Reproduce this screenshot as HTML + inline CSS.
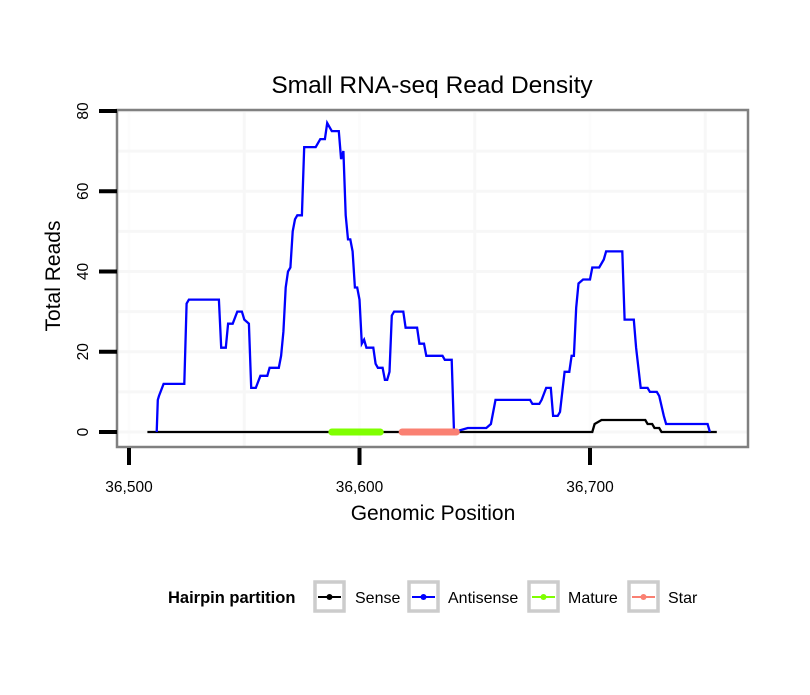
<!DOCTYPE html>
<html><head><meta charset="utf-8"><style>
body{margin:0;background:#fff;}
svg text{font-family:"Liberation Sans",sans-serif;}
</style></head><body>
<svg id="chart" width="810" height="690" xmlns="http://www.w3.org/2000/svg">
<text x="432" y="93" font-size="24.5" text-anchor="middle">Small RNA-seq Read Density</text>
<rect x="117" y="110" width="631" height="337" fill="#fff"/>
<g id="grid"></g>
<g id="series"></g>
<rect x="117" y="110" width="631" height="337" fill="none" stroke="#808080" stroke-width="2.5"/>
<g id="axes"></g>
<text x="433" y="520" font-size="21" text-anchor="middle">Genomic Position</text>
<text transform="translate(60,276) rotate(-90)" font-size="21" text-anchor="middle">Total Reads</text>
<g>
<text x="168" y="603" font-size="16.5" font-weight="bold">Hairpin partition</text>
<g><rect x="315" y="582" width="29" height="29" fill="#fff" stroke="#cccccc" stroke-width="3.5"/><line x1="318" y1="597" x2="341" y2="597" stroke="#000" stroke-width="2"/><circle cx="329.5" cy="597" r="3" fill="#000"/><text x="355" y="603" font-size="16">Sense</text></g>
<g><rect x="409" y="582" width="29" height="29" fill="#fff" stroke="#cccccc" stroke-width="3.5"/><line x1="412" y1="597" x2="435" y2="597" stroke="#0000ff" stroke-width="2"/><circle cx="423.5" cy="597" r="3" fill="#0000ff"/><text x="448" y="603" font-size="16">Antisense</text></g>
<g><rect x="529" y="582" width="29" height="29" fill="#fff" stroke="#cccccc" stroke-width="3.5"/><line x1="532" y1="597" x2="555" y2="597" stroke="#7fff00" stroke-width="2"/><circle cx="543.5" cy="597" r="3" fill="#7fff00"/><text x="568" y="603" font-size="16">Mature</text></g>
<g><rect x="629" y="582" width="29" height="29" fill="#fff" stroke="#cccccc" stroke-width="3.5"/><line x1="632" y1="597" x2="655" y2="597" stroke="#fa8072" stroke-width="2"/><circle cx="643.5" cy="597" r="3" fill="#fa8072"/><text x="668" y="603" font-size="16">Star</text></g>
</g>
</svg>
<script>
const xTicks=[36500,36600,36700];
const xMinor=[36550,36650,36750];
const yTicks=[0,20,40,60,80];
const yMinor=[10,30,50,70];
const antisensePos=[36512,36512.5,36513,36515,36524,36525,36526,36539,36540,36542,36543,36545,36547,36549,36550,36552,36553,36555,36557,36560,36561,36565,36566,36567,36568,36569,36570,36571,36572,36573,36575,36576,36581,36583,36585,36586,36588,36591,36592,36593,36594,36595,36596,36597,36598,36599,36600,36601,36602,36603,36606,36607,36608,36610,36611,36612,36613,36614,36615,36619,36620,36625,36626,36628,36629,36636,36637,36640,36641,36647,36655,36657,36659,36674,36675,36678,36679,36681,36683,36684,36686,36687,36689,36691,36692,36693,36694,36695,36697,36700,36701,36704,36706,36707,36714,36715,36719,36720,36722,36725,36726,36729,36730,36732,36733,36751,36752];
const antisenseVal=[0,8,9,12,12,32,33,33,21,21,27,27,30,30,28,27,11,11,14,14,16,16,19,25,36,40,41,50,53,54,54,71,71,73,73,77,75,75,68,70,54,48,48,45,36,36,33,22,23,21,21,17,16,16,13,13,15,29,30,30,26,26,22,22,19,19,18,18,0,1,1,2,8,8,7,7,8,11,11,4,4,5,15,15,19,19,31,37,38,38,41,41,43,45,45,28,28,21,11,11,10,10,9,4,2,2,0];
const sensePos=[36508,36701,36702,36705,36724,36725,36727,36728,36730,36731,36755];
const senseVal=[0,0,2,3,3,2,2,1,1,0,0];
const matureRange=[36588,36609];
const starRange=[36618.5,36642];
const NS='http://www.w3.org/2000/svg';
const X=v=>129+(v-36500)*2.305;
const Y=v=>432-v*4.0125;
function mk(t,a,p){const e=document.createElementNS(NS,t);for(const k in a)e.setAttribute(k,a[k]);p.appendChild(e);return e;}
const grid=document.getElementById('grid'),axes=document.getElementById('axes'),series=document.getElementById('series');
xMinor.forEach(v=>{const l=mk('line',{x1:X(v),x2:X(v),y1:111,y2:446,stroke:'#f7f7f7','stroke-width':3},grid);

});
xTicks.forEach(v=>{const l=mk('line',{x1:X(v),x2:X(v),y1:111,y2:446,stroke:'#fcfcfc','stroke-width':3},grid);

});
yMinor.concat(yTicks).forEach(v=>{const l=mk('line',{x1:118,x2:747,y1:Y(v),y2:Y(v),stroke:'#f7f7f7','stroke-width':3},grid);

});
function path(px,py){return px.map((p,i)=>(i?'L':'M')+X(p).toFixed(1)+','+Y(py[i]).toFixed(1)).join('');}
const sl=mk('path',{d:path(sensePos,senseVal),fill:'none',stroke:'#000','stroke-width':2.3},series);


const al=mk('path',{d:path(antisensePos,antisenseVal),fill:'none',stroke:'#0000ff','stroke-width':2.3},series);


const ml=mk('line',{x1:X(matureRange[0]),x2:X(matureRange[1]),y1:Y(0),y2:Y(0),stroke:'#7fff00','stroke-width':7,'stroke-linecap':'round'},series);


const st=mk('line',{x1:X(starRange[0]),x2:X(starRange[1]),y1:Y(0),y2:Y(0),stroke:'#fa8072','stroke-width':7,'stroke-linecap':'round'},series);


xTicks.forEach(v=>{const l=mk('line',{x1:X(v),x2:X(v),y1:448,y2:465,stroke:'#000','stroke-width':4},axes);


const t=mk('text',{x:X(v),y:492,'font-size':15.5,'text-anchor':'middle'},axes);t.textContent=v.toLocaleString('en-US');

});
yTicks.forEach(v=>{const l=mk('line',{x1:99,x2:117,y1:Y(v),y2:Y(v),stroke:'#000','stroke-width':4},axes);


const t=mk('text',{transform:`translate(88,${Y(v)}) rotate(-90)`,'font-size':15.5,'text-anchor':'middle'},axes);t.textContent=v;

});
</script>
</body></html>
